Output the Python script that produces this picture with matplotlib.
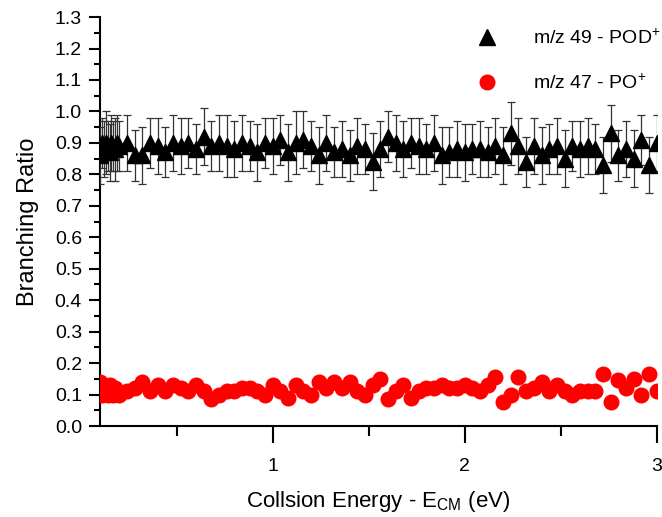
#!/usr/bin/env python3

import matplotlib
matplotlib.use('Agg')
import matplotlib.pyplot as plt
from matplotlib.ticker import MultipleLocator, FormatStrFormatter

plt.rcParams['font.family'] = ['Liberation Sans', 'DejaVu Sans']

# collision energy (eV)
energy = [0.10, 0.11, 0.12, 0.13, 0.14, 0.15, 0.16, 0.17, 0.18, 0.19, 0.20,
          0.24, 0.28, 0.32, 0.36, 0.40, 0.44, 0.48, 0.52, 0.56, 0.60,
          0.64, 0.68, 0.72, 0.76, 0.80, 0.84, 0.88, 0.92, 0.96, 1.00,
          1.04, 1.08, 1.12, 1.16, 1.20, 1.24, 1.28, 1.32, 1.36, 1.40,
          1.44, 1.48, 1.52, 1.56, 1.60, 1.64, 1.68, 1.72, 1.76, 1.80,
          1.84, 1.88, 1.92, 1.96, 2.00, 2.04, 2.08, 2.12, 2.16, 2.20,
          2.24, 2.28, 2.32, 2.36, 2.40, 2.44, 2.48, 2.52, 2.56, 2.60,
          2.64, 2.68, 2.72, 2.76, 2.80, 2.84, 2.88, 2.92, 2.96, 3.00]

# m/z 49 - POD+
pod = [0.86, 0.90, 0.88, 0.90, 0.89, 0.87, 0.90, 0.89, 0.88, 0.90, 0.89,
       0.90, 0.86, 0.86, 0.90, 0.89, 0.87, 0.90, 0.89, 0.90, 0.88,
       0.92, 0.89, 0.90, 0.89, 0.88, 0.90, 0.89, 0.87, 0.90, 0.89,
       0.91, 0.87, 0.90, 0.91, 0.89, 0.86, 0.90, 0.87, 0.88, 0.86,
       0.89, 0.88, 0.84, 0.88, 0.92, 0.90, 0.88, 0.90, 0.89, 0.88,
       0.90, 0.86, 0.87, 0.88, 0.87, 0.88, 0.88, 0.87, 0.89, 0.86,
       0.93, 0.89, 0.84, 0.89, 0.86, 0.88, 0.89, 0.85, 0.89, 0.88,
       0.89, 0.88, 0.83, 0.93, 0.86, 0.88, 0.85, 0.91, 0.83, 0.90]

pod_err = [0.09, 0.08, 0.09, 0.10, 0.08, 0.09, 0.09, 0.08, 0.10, 0.09, 0.08,
           0.09, 0.08, 0.09, 0.08, 0.09, 0.08, 0.09, 0.09, 0.08, 0.08,
           0.09, 0.08, 0.09, 0.10, 0.09, 0.09, 0.08, 0.09, 0.08, 0.09,
           0.08, 0.09, 0.10, 0.09, 0.08, 0.09, 0.09, 0.08, 0.09, 0.08,
           0.09, 0.08, 0.09, 0.09, 0.08, 0.09, 0.09, 0.08, 0.09, 0.08,
           0.09, 0.09, 0.08, 0.09, 0.09, 0.08, 0.09, 0.08, 0.09, 0.09,
           0.10, 0.09, 0.08, 0.09, 0.09, 0.08, 0.09, 0.09, 0.08, 0.09,
           0.09, 0.08, 0.09, 0.09, 0.08, 0.09, 0.09, 0.08, 0.09, 0.09]

# m/z 47 - PO+
po = [0.14, 0.10, 0.12, 0.11, 0.10, 0.13, 0.11, 0.10, 0.12, 0.11, 0.10,
      0.11, 0.12, 0.14, 0.11, 0.13, 0.11, 0.13, 0.12, 0.11, 0.13,
      0.11, 0.085, 0.10, 0.11, 0.11, 0.12, 0.12, 0.11, 0.10, 0.13,
      0.11, 0.09, 0.13, 0.11, 0.10, 0.14, 0.12, 0.14, 0.12, 0.14,
      0.11, 0.10, 0.13, 0.15, 0.085, 0.11, 0.13, 0.09, 0.11, 0.12,
      0.12, 0.13, 0.12, 0.12, 0.13, 0.12, 0.11, 0.13, 0.155, 0.075,
      0.10, 0.155, 0.11, 0.12, 0.14, 0.11, 0.13, 0.11, 0.10, 0.11,
      0.11, 0.11, 0.165, 0.075, 0.145, 0.12, 0.15, 0.10, 0.165, 0.11]

fig = plt.figure(figsize=(6.62, 5.17), dpi=100)
ax = fig.add_axes([0.151, 0.176, 0.841, 0.791])

eb = ax.errorbar(energy, pod, yerr=pod_err, fmt='^', color='black', ms=12,
                 ecolor='0.2', elinewidth=0.9, capsize=3, capthick=0.9,
                 zorder=3)
red, = ax.plot(energy, po, 'o', color='#ff0000', ms=10.5, mec='#ff0000', zorder=3)
tri, = ax.plot([], [], '^', color='black', ms=12)

ax.set_xlim(0.1, 3.0)
ax.set_ylim(0.0, 1.3)
ax.xaxis.set_major_locator(MultipleLocator(1))
ax.xaxis.set_minor_locator(MultipleLocator(0.5))
ax.yaxis.set_major_locator(MultipleLocator(0.1))
ax.yaxis.set_minor_locator(MultipleLocator(0.05))
ax.yaxis.set_major_formatter(FormatStrFormatter('%.1f'))

for side in ['top', 'right']:
    ax.spines[side].set_visible(False)
for side in ['left', 'bottom']:
    ax.spines[side].set_linewidth(1.5)

ax.tick_params(which='both', direction='out', width=1.5, labelsize=14)
ax.tick_params(axis='y', which='major', length=8, pad=5)
ax.tick_params(axis='y', which='minor', length=4)
ax.tick_params(axis='x', which='major', length=12, pad=11)
ax.tick_params(axis='x', which='minor', length=7)

ax.set_xlabel(r'Collsion Energy - E$_\mathregular{CM}$ (eV)', fontsize=16, labelpad=10)
ax.set_ylabel('Branching Ratio', fontsize=17, labelpad=11)

ax.legend([tri, red], [r'm/z 49 - POD$^\mathregular{+}$', r'm/z 47 - PO$^\mathregular{+}$'],
          loc='upper left', bbox_to_anchor=(0.632, 1.012), frameon=False,
          fontsize=14, handletextpad=1.4, labelspacing=1.28, borderpad=0.3,
          numpoints=1)

plt.savefig('out.png', dpi=100)
plt.close()
